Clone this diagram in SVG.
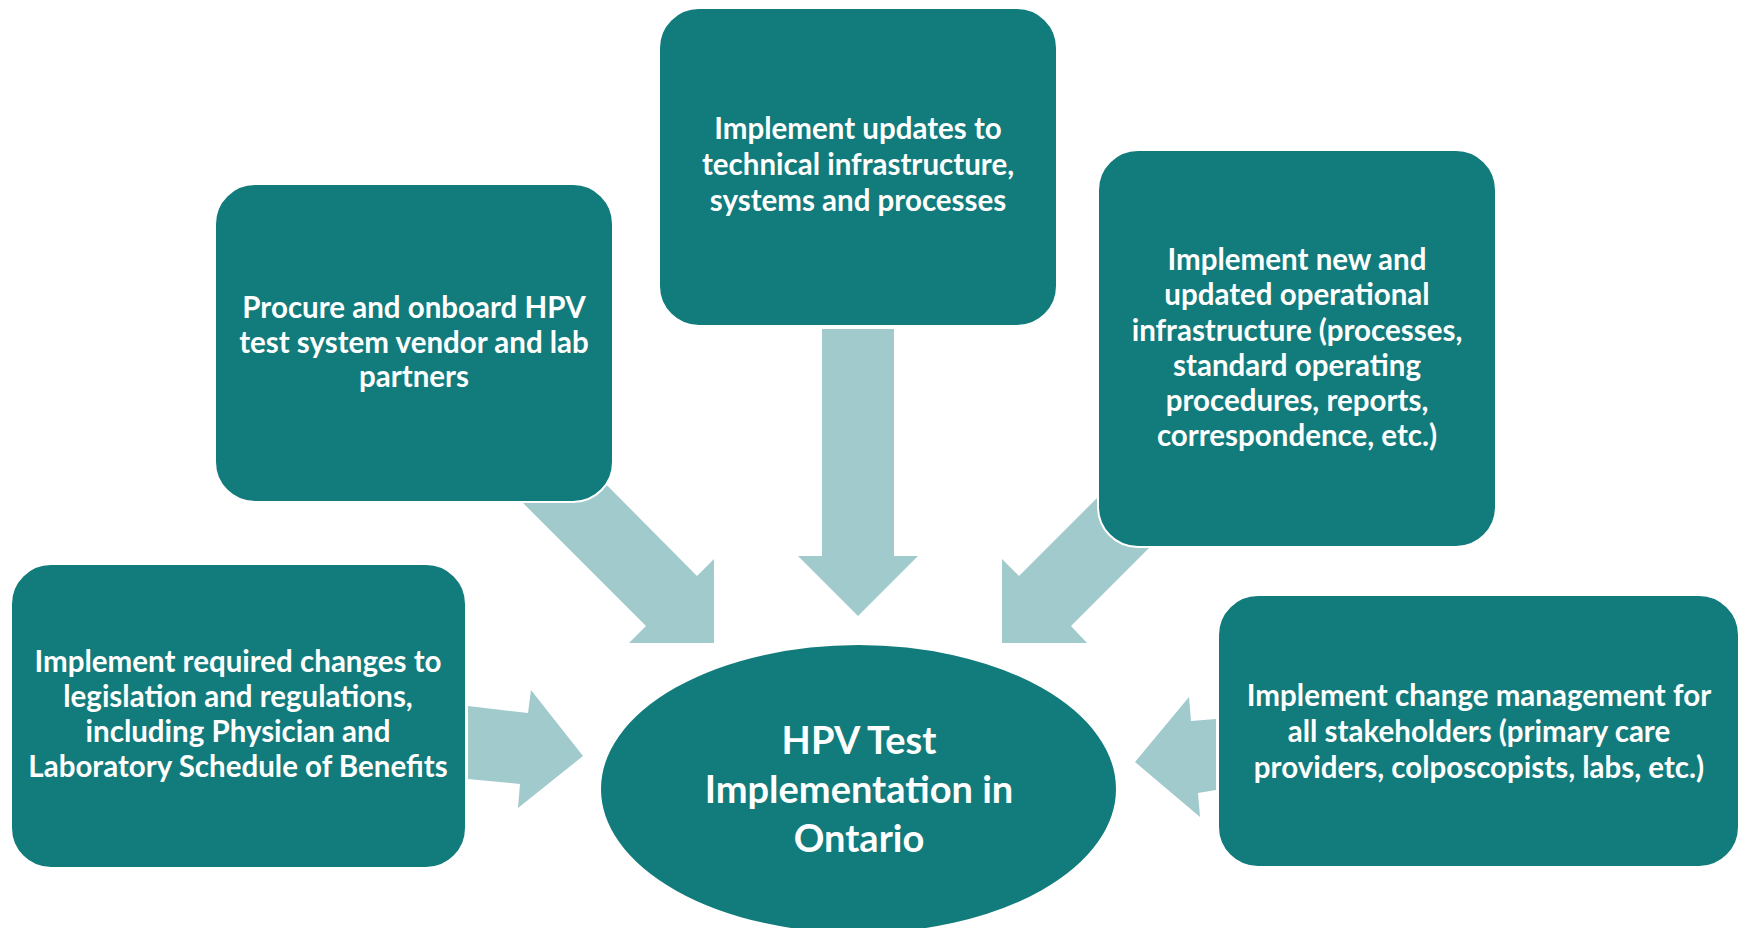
<svg xmlns="http://www.w3.org/2000/svg" width="1741" height="928" viewBox="0 0 1741 928">
<style>
.box{fill:#127B7C;stroke:#ffffff;stroke-width:2}
.arr{fill:#A1CACC}
.t{font-family:Lato,"Open Sans","Liberation Sans",sans-serif;font-weight:bold;font-size:29.5px;fill:#ffffff;text-anchor:middle}
.tc{font-family:Lato,"Open Sans","Liberation Sans",sans-serif;font-weight:bold;font-size:38px;fill:#ffffff;text-anchor:middle}
</style>
<rect width="1741" height="928" fill="#ffffff"/>
<g id="connectors">
<polygon class="arr" points="470,450 646,626 629,643 714,643 714,559 697,576 572,450"/>
<polygon class="arr" points="822,329 894,329 894,556 918,556 858,616 798,556 822,556"/>
<polygon class="arr" points="1115,480 1019,576 1002,559 1002,643 1087,643 1071,626 1217,480"/>
<polygon class="arr" points="468,706 528,713 531,690 583,756 518,808 520,784 468,779"/>
<polygon class="arr" points="1135,762 1189,697 1191,721 1216,719 1216,790 1198,793 1200,817"/>
</g>
<g id="node-procure">
<rect class="box" x="215" y="184" width="398" height="318" rx="40"/>
<text class="t"><tspan x="414" y="318">Procure and onboard HPV</tspan><tspan x="414" y="353">test system vendor and lab</tspan><tspan x="414" y="387">partners</tspan></text>
</g>
<g id="node-technical">
<rect class="box" x="659" y="8" width="398" height="318" rx="40"/>
<text class="t"><tspan x="858" y="139">Implement updates to</tspan><tspan x="858" y="175">technical infrastructure,</tspan><tspan x="858" y="211">systems and processes</tspan></text>
</g>
<g id="node-operational">
<rect class="box" x="1098" y="150" width="398" height="397" rx="40"/>
<text class="t"><tspan x="1297" y="270">Implement new and</tspan><tspan x="1297" y="305">updated operational</tspan><tspan x="1297" y="341">infrastructure (processes,</tspan><tspan x="1297" y="376">standard operating</tspan><tspan x="1297" y="411">procedures, reports,</tspan><tspan x="1297" y="446">correspondence, etc.)</tspan></text>
</g>
<g id="node-legislation">
<rect class="box" x="11" y="564" width="455" height="304" rx="40"/>
<text class="t"><tspan x="238" y="672">Implement required changes to</tspan><tspan x="238" y="707">legislation and regulations,</tspan><tspan x="238" y="742">including Physician and</tspan><tspan x="238" y="777">Laboratory Schedule of Benefits</tspan></text>
</g>
<g id="node-change">
<rect class="box" x="1218" y="595" width="521" height="272" rx="40"/>
<text class="t"><tspan x="1479" y="706">Implement change management for</tspan><tspan x="1479" y="742">all stakeholders (primary care</tspan><tspan x="1479" y="778">providers, colposcopists, labs, etc.)</tspan></text>
</g>
<g id="node-center">
<ellipse class="box" cx="858.5" cy="789" rx="258.5" ry="145"/>
<text class="tc"><tspan x="859" y="754">HPV Test</tspan><tspan x="859" y="803">Implementation in</tspan><tspan x="859" y="852">Ontario</tspan></text>
</g>
</svg>
